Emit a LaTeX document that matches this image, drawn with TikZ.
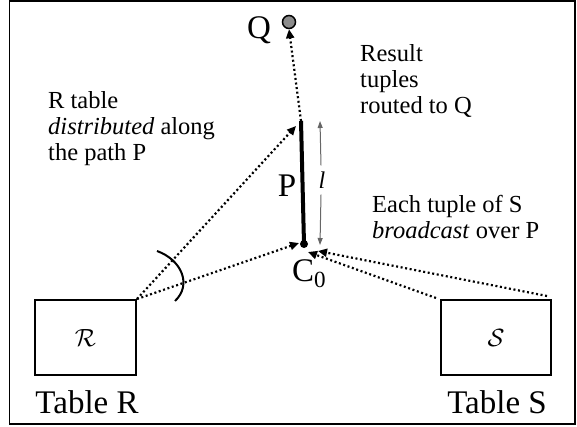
\documentclass[tikz,border=0pt]{standalone}
\usepackage{fontspec}
\setmainfont{Liberation Serif}
\usetikzlibrary{arrows.meta}
\begin{document}
\begin{tikzpicture}[x=1pt,y=-1pt,
  dotarrow/.style={line width=2.2pt, dash pattern=on 2pt off 2.6pt, -{Triangle[length=9pt,width=8pt]}},
  thinarrow/.style={line width=1pt, draw=black!60, -{Triangle[length=7pt,width=5pt]}},
  big/.style={font=\fontsize{33}{36}\selectfont, inner sep=0pt},
  small/.style={font=\fontsize{24.5}{26}\selectfont, align=left, inner sep=0pt},
  tablebox/.style={draw, line width=2pt, minimum width=101pt, minimum height=75pt, inner sep=0pt}]
\useasboundingbox (0,0) rectangle (577,427);
\draw[line width=1.5pt] (9.5,1) rectangle (575,424);
% tables
\node[tablebox, font=\fontsize{28}{30}\selectfont] (R) at (85.5,337.5) {$\mathcal{R}$};
\node[tablebox, minimum width=110pt, font=\fontsize{28}{30}\selectfont] (S) at (496,337.5) {$\mathcal{S}$};
\node[big, anchor=base] (TR) at (87,413) {Table R};
\node[big, anchor=base] (TS) at (497,413) {Table S};
% path P
\coordinate (Ptop) at (301,121);
\coordinate (C0) at (304,244);
\draw[line width=4pt] (Ptop) -- (C0);
\fill (C0) circle (4pt);
\node[circle, draw, line width=1.5pt, fill=black!45, minimum size=13pt, inner sep=0pt] (Q) at (289,22) {};
\node[big] (Ql) at (259,30) {Q};
\node[big] (Pl) at (287,186) {P};
\node[big, anchor=base west] (C0l) at (292,281) {C\textsubscript{0}};
\node[small, font=\fontsize{24}{27}\selectfont\itshape] (l) at (322,180) {l};
\coordinate (lup) at (320,121);
\coordinate (ldn) at (320,245);
\draw[thinarrow] (l.north) ++(-1,-6) coordinate (la) -- (lup);
\draw[thinarrow] (l.south) ++(-1,6) coordinate (lb) -- (ldn);
% arrows
\draw[dotarrow] (Ptop) -- (Q.south);
\coordinate (Rc) at (R.north east);
\draw[dotarrow] (Rc) -- (296,126);
\draw[dotarrow] (Rc) -- (299,243);
\coordinate (Sa) at (436,298);
\coordinate (Sb) at (547,296);
\draw[dotarrow] (Sa) -- (308,252);
\draw[dotarrow] (Sb) -- (318,251);
% arc
\draw[line width=2pt] (157,251) .. controls (182,260) and (192,285) .. (175,301);
% texts
\node[small, anchor=north west] (Rt) at (48,91) {R table\\\textit{distributed} along\\the path P};
\node[small, anchor=north west] (Res) at (360,44) {Result\\tuples\\routed to Q};
\node[small, anchor=north west] (Each) at (372,195) {Each tuple of S\\\textit{broadcast} over P};
\end{tikzpicture}
\end{document}
